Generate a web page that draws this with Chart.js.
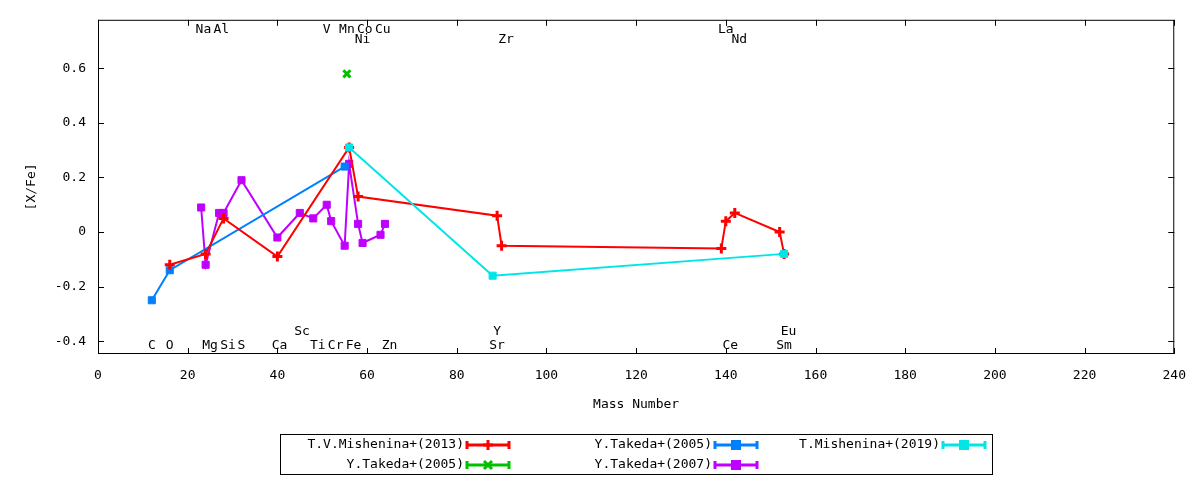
<!DOCTYPE html>
<html><head><meta charset="utf-8">
<script src="https://cdn.jsdelivr.net/npm/chart.js@4"></script>
<style>html,body{margin:0;padding:0;background:#fff}#w{width:1200px;height:480px}</style>
</head><body><div id="w"><canvas id="c"></canvas></div>
<script>
const xTicks=[0,20,40,60,80,100,120,140,160,180,200,220,240];
const yTicks=[-0.4,-0.2,0,0.2,0.4,0.6];
const mish2013X=[16,24,28,40,56,58,89,90,139,140,142,152,153];
const mish2013Y=[-0.12,-0.08,0.05,-0.09,0.31,0.13,0.06,-0.05,-0.06,0.04,0.07,0.00,-0.08];
const tak2005aX=[12,16,55];
const tak2005aY=[-0.25,-0.14,0.24];
const mish2019X=[56,88,153];
const mish2019Y=[0.31,-0.16,-0.08];
const tak2005bX=[55.5];
const tak2005bY=[0.58];
const tak2007X=[23,24,27,28,32,40,45,48,51,52,55,56,58,59,63,64];
const tak2007Y=[0.09,-0.12,0.07,0.07,0.19,-0.02,0.07,0.05,0.10,0.04,-0.05,0.25,0.03,-0.04,-0.01,0.03];
const elemNames=["Na","Al","V","Mn","Co","Cu","La","Ni","Zr","Nd","Sc","Y","Eu","C","O","Mg","Si","S","Ca","Ti","Cr","Fe","Zn","Sr","Ce","Sm"];
const elemMass=[23.5,27.5,51,55.5,59.5,63.5,140,59,91,143,45.5,89,154,12,16,25,29,32,40.5,49,53,57,65,89,141,153];
const elemRow=[0.742,0.742,0.742,0.742,0.742,0.742,0.742,0.705,0.705,0.705,-0.364,-0.364,-0.364,-0.415,-0.415,-0.415,-0.415,-0.415,-0.415,-0.415,-0.415,-0.415,-0.415,-0.415,-0.415,-0.415];
const FONT='"DejaVu Sans Mono", monospace';
const pts=(xs,ys)=>xs.map((x,i)=>({x,y:ys[i]}));
const series=[
 {label:"T.V.Mishenina+(2013)",data:pts(mish2013X,mish2013Y),color:"#ff0000",style:"cross"},
 {label:"Y.Takeda+(2005)",data:pts(tak2005aX,tak2005aY),color:"#0080ff",style:"rect"},
 {label:"T.Mishenina+(2019)",data:pts(mish2019X,mish2019Y),color:"#00e6e6",style:"rect"},
 {label:"Y.Takeda+(2005)",data:pts(tak2005bX,tak2005bY),color:"#00c000",style:"crossRot"},
 {label:"Y.Takeda+(2007)",data:pts(tak2007X,tak2007Y),color:"#c000ff",style:"rect"}
];
const ds=series.map((s,i)=>({label:s.label,data:s.data,borderColor:s.color,backgroundColor:s.color,
 pointStyle:s.style,pointRadius:s.style==="rect"?5:5,pointBorderWidth:s.style==="rect"?1:3,
 borderWidth:2,showLine:true,tension:0,order:[3,4,1,2,5][i]}));
const plug={id:'p',afterDraw(ch){
 const c=ch.ctx,a=ch.chartArea,xs=ch.scales.x,ys=ch.scales.y;
 c.save();
 c.strokeStyle='#000';c.lineWidth=1;
 c.strokeRect(a.left+0.5,a.top+0.5,a.right-a.left-1,a.bottom-a.top-1);
 xTicks.forEach(t=>{const p=Math.round(xs.getPixelForValue(t))+0.5;c.beginPath();c.moveTo(p,a.bottom);c.lineTo(p,a.bottom-6);c.moveTo(p,a.top);c.lineTo(p,a.top+6);c.stroke();});
 yTicks.forEach(t=>{const p=Math.round(ys.getPixelForValue(t))+0.5;c.beginPath();c.moveTo(a.left,p);c.lineTo(a.left+6,p);c.moveTo(a.right,p);c.lineTo(a.right-6,p);c.stroke();});
 c.fillStyle='#000';c.font='13px '+FONT;c.textAlign='center';c.textBaseline='middle';
 elemNames.forEach((n,i)=>c.fillText(n,xs.getPixelForValue(elemMass[i]),ys.getPixelForValue(elemRow[i])));
 c.fillText('Mass Number',(a.left+a.right)/2,405);
 c.save();c.translate(32,(a.top+a.bottom)/2);c.rotate(-Math.PI/2);c.fillText('[X/Fe]',0,0);c.restore();
 // legend
 c.strokeRect(280.5,434.5,712,40);
 const ent=[[0,509,445],[1,757,445],[2,985,445],[3,509,465],[4,757,465]];
 ent.forEach(([i,xr,y])=>{const s=series[i];c.textAlign='right';c.fillStyle='#000';c.fillText(s.label,xr-45,y);
  c.strokeStyle=s.color;c.fillStyle=s.color;c.lineWidth=3;c.beginPath();c.moveTo(xr-42,y);c.lineTo(xr,y);c.moveTo(xr-42,y-4);c.lineTo(xr-42,y+4);c.moveTo(xr,y-4);c.lineTo(xr,y+4);c.stroke();
  const m=xr-21;
  if(s.style==='rect'){c.fillRect(m-5,y-5,10,10);}
  else if(s.style==='cross'){c.beginPath();c.moveTo(m-5,y);c.lineTo(m+5,y);c.moveTo(m,y-5);c.lineTo(m,y+5);c.stroke();}
  else{c.beginPath();c.moveTo(m-4,y-4);c.lineTo(m+4,y+4);c.moveTo(m+4,y-4);c.lineTo(m-4,y+4);c.stroke();}
 });
 c.restore();}};
new Chart(document.getElementById('c'),{type:'scatter',data:{datasets:ds},plugins:[plug],
 options:{responsive:true,maintainAspectRatio:false,animation:false,
 layout:{padding:{left:0,right:23,top:17,bottom:0}},
 plugins:{legend:{display:false},tooltip:{enabled:false}},
 scales:{
  x:{type:'linear',min:0,max:240,afterFit(s){s.height=126;},
   afterBuildTicks(s){s.ticks=xTicks.map(v=>({value:v}));},
   grid:{display:false,drawTicks:false},border:{display:false},
   ticks:{padding:14,color:'#000',font:{family:FONT,size:13},maxRotation:0,autoSkip:false}},
  y:{type:'linear',min:-0.447,max:0.778,afterFit(s){s.width=98;},
   afterBuildTicks(s){s.ticks=yTicks.map(v=>({value:v}));},
   grid:{display:false,drawTicks:false},border:{display:false},
   ticks:{padding:12,color:'#000',font:{family:FONT,size:13},callback:v=>Math.abs(v)<1e-9?'0':v.toFixed(1)}}
 }}});
</script></body></html>
